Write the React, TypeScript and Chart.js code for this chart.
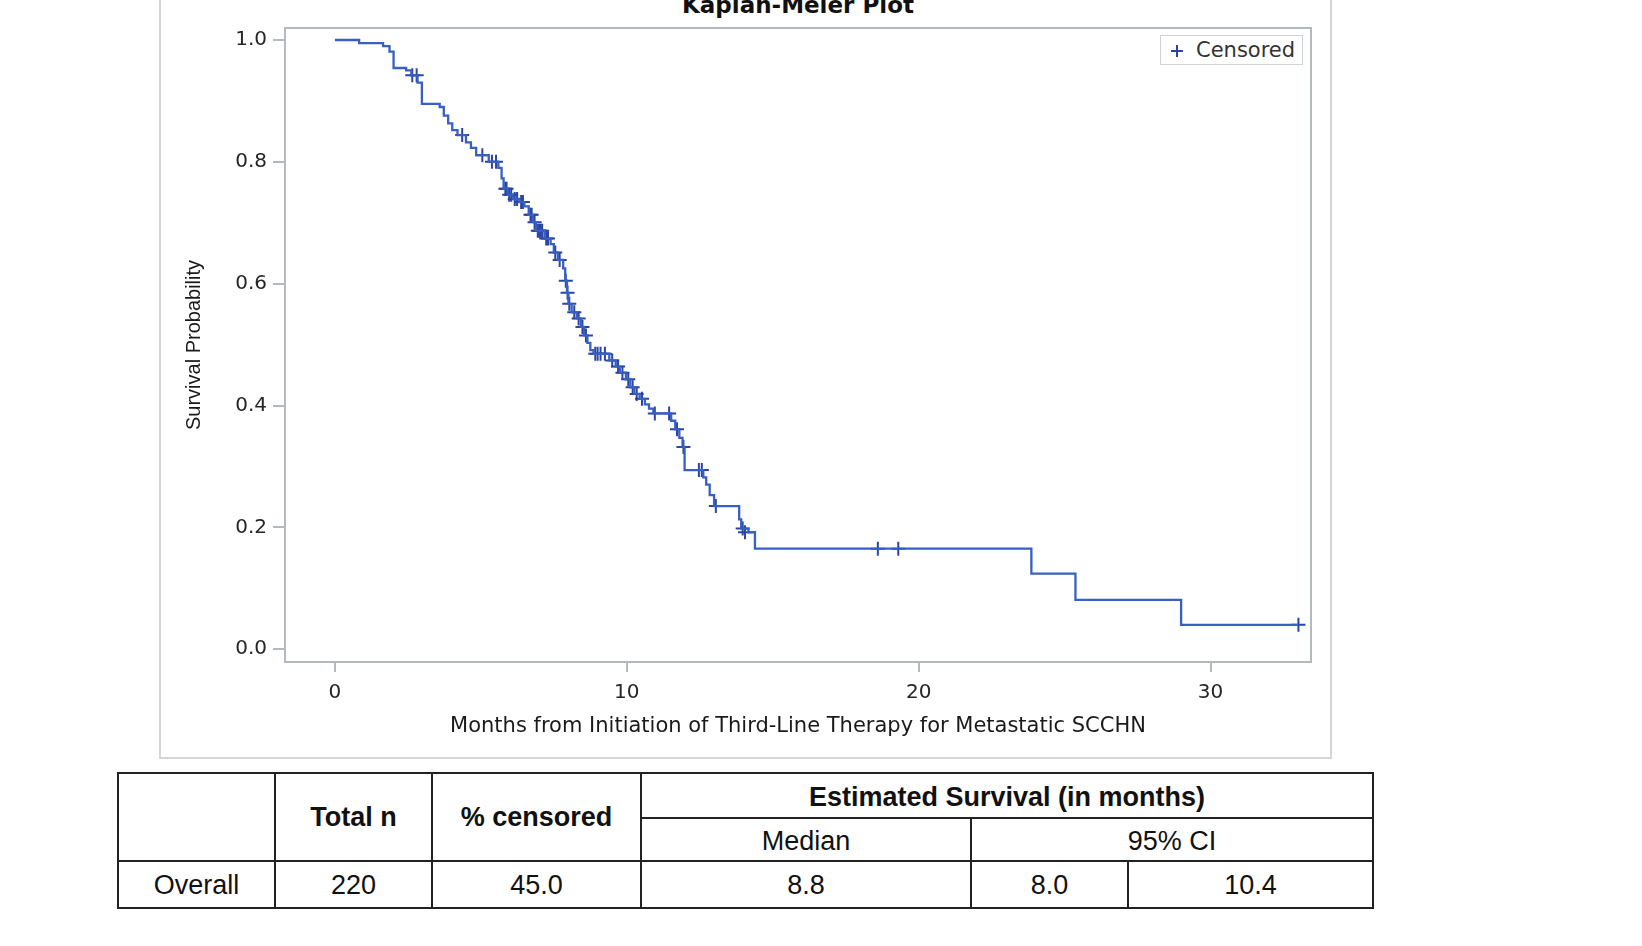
import React, { useEffect, useRef } from "react";
import { Chart, registerables } from "chart.js";

Chart.register(...registerables);

// Kaplan-Meier step points (months, survival probability)
const eventTimes = [
  0, 0.83, 1.65, 1.87, 2.01, 2.44, 2.62, 2.83, 2.98, 3.59,
  3.73, 3.88, 4.02, 4.2, 4.49, 4.66, 4.84, 5.27, 5.6, 5.71,
  5.78, 5.92, 6.1, 6.32, 6.49, 6.64, 6.78, 6.89, 7.18, 7.39,
  7.5, 7.64, 7.82, 7.89, 7.95, 8.0, 8.11, 8.29, 8.43, 8.54,
  8.65, 8.75, 8.86, 9.4, 9.62, 9.76, 9.97, 10.12, 10.26, 10.44,
  10.62, 10.76, 10.91, 11.52, 11.66, 11.8, 11.91, 11.98, 12.62, 12.72,
  12.84, 12.99, 13.85, 13.92, 14.17, 14.39, 23.86, 25.37, 28.99, 33.01,
];
const survival = [
  1.0, 0.995, 0.99, 0.981, 0.954, 0.95, 0.942, 0.93, 0.895, 0.89,
  0.876, 0.863, 0.852, 0.844, 0.832, 0.823, 0.811, 0.8, 0.79, 0.773,
  0.756, 0.746, 0.739, 0.734, 0.727, 0.713, 0.701, 0.687, 0.674, 0.665,
  0.651, 0.639, 0.625, 0.605, 0.585, 0.567, 0.553, 0.543, 0.529, 0.515,
  0.503, 0.491, 0.485, 0.474, 0.464, 0.454, 0.443, 0.43, 0.419, 0.411,
  0.402, 0.395, 0.387, 0.375, 0.361, 0.347, 0.332, 0.294, 0.282, 0.27,
  0.253, 0.235, 0.213, 0.198, 0.192, 0.165, 0.124, 0.081, 0.04, 0.04,
];

// Censored observations
const censorTimes = [
  2.65, 2.8, 4.36, 5.05, 5.38, 5.52, 5.84, 5.88, 5.97, 6.04,
  6.16, 6.24, 6.38, 6.44, 6.7, 6.74, 6.84, 6.95, 7.0, 7.05,
  7.1, 7.24, 7.3, 7.55, 7.7, 7.91, 7.97, 8.03, 8.2, 8.35,
  8.48, 8.6, 8.92, 9.0, 9.1, 9.25, 9.5, 9.7, 9.85, 10.05,
  10.2, 10.34, 10.52, 10.96, 11.45, 11.72, 11.94, 12.47, 12.57, 13.05,
  13.97, 14.05, 18.6, 19.3, 33.01,
];
const censorSurv = [
  0.942, 0.942, 0.844, 0.811, 0.8, 0.8, 0.756, 0.756, 0.746, 0.746,
  0.739, 0.739, 0.734, 0.734, 0.713, 0.713, 0.701, 0.687, 0.687, 0.687,
  0.687, 0.674, 0.674, 0.651, 0.639, 0.605, 0.585, 0.567, 0.553, 0.543,
  0.529, 0.515, 0.485, 0.485, 0.485, 0.485, 0.474, 0.464, 0.454, 0.443,
  0.43, 0.419, 0.411, 0.387, 0.387, 0.361, 0.332, 0.294, 0.294, 0.235,
  0.198, 0.192, 0.165, 0.165, 0.04,
];

const xTickValues = [0, 10, 20, 30];
const yTickValues = [0, 0.2, 0.4, 0.6, 0.8, 1.0];

const tableHeaders = ["", "Total n", "% censored", "Estimated Survival (in months)"];
const tableSubHeaders = ["Median", "95% CI"];
const tableRow = ["Overall", "220", "45.0", "8.8", "8.0", "10.4"];

const LINE_BLUE = "#3760c0";
const MARK_BLUE = "#2a45a4";
const AXIS_GRAY = "#b4b9c0";
const CHART_FONT = "'DejaVu Sans', sans-serif";

const plotBorder = {
  id: "plotBorder",
  afterDatasetsDraw(chart: any) {
    const { ctx, chartArea } = chart;
    ctx.save();
    ctx.strokeStyle = AXIS_GRAY;
    ctx.lineWidth = 2;
    ctx.strokeRect(
      chartArea.left,
      chartArea.top,
      chartArea.right - chartArea.left,
      chartArea.bottom - chartArea.top
    );
    ctx.restore();
  },
};

function KMChart() {
  const ref = useRef<HTMLCanvasElement | null>(null);
  useEffect(() => {
    if (!ref.current) return;
    const chart = new Chart(ref.current, {
      type: "line",
      data: {
        datasets: [
          {
            label: "Survival",
            data: eventTimes.map((t, i) => ({ x: t, y: survival[i] })),
            borderColor: LINE_BLUE,
            borderWidth: 2.3,
            pointRadius: 0,
            stepped: "before",
            fill: false,
          } as any,
          {
            type: "scatter",
            label: "Censored",
            data: censorTimes.map((t, i) => ({ x: t, y: censorSurv[i] })),
            pointStyle: "cross",
            pointRadius: 7,
            borderColor: MARK_BLUE,
            backgroundColor: MARK_BLUE,
            borderWidth: 2,
            showLine: false,
          } as any,
        ],
      },
      options: {
        responsive: false,
        animation: false,
        layout: { padding: { top: 28, right: 20, left: 0, bottom: 0 } },
        plugins: {
          legend: { display: false },
          tooltip: { enabled: false },
          title: { display: false },
        },
        scales: {
          x: {
            type: "linear",
            min: -1.71,
            max: 33.44,
            afterBuildTicks: (s: any) => {
              s.ticks = xTickValues.map((v) => ({ value: v }));
            },
            afterFit: (s: any) => {
              s.height = 96;
            },
            ticks: {
              autoSkip: false,
              maxRotation: 0,
              padding: 9,
              color: "#262626",
              font: { family: CHART_FONT, size: 20 },
              callback: (v: any) => String(v),
            },
            grid: {
              drawOnChartArea: false,
              drawTicks: true,
              tickLength: 10,
              color: AXIS_GRAY,
              lineWidth: 2,
            },
            border: { display: false },
            title: {
              display: true,
              text: "Months from Initiation of Third-Line Therapy for Metastatic SCCHN",
              color: "#1a1a1a",
              font: { family: CHART_FONT, size: 21 },
              padding: { top: 0, bottom: 19 },
            },
          },
          y: {
            type: "linear",
            min: -0.021,
            max: 1.0197,
            afterBuildTicks: (s: any) => {
              s.ticks = yTickValues.map((v) => ({ value: v }));
            },
            afterFit: (s: any) => {
              s.width = 125;
            },
            ticks: {
              padding: 6,
              color: "#262626",
              font: { family: CHART_FONT, size: 20 },
              callback: (v: any) => Number(v).toFixed(1),
            },
            grid: {
              drawOnChartArea: false,
              drawTicks: true,
              tickLength: 12,
              color: AXIS_GRAY,
              lineWidth: 2,
            },
            border: { display: false },
            title: {
              display: true,
              text: "Survival Probability",
              color: "#1a1a1a",
              font: { family: "'Liberation Sans', Arial, sans-serif", size: 20 },
              padding: { top: 22, bottom: 0 },
            },
          },
        },
      } as any,
      plugins: [plotBorder],
    });
    return () => chart.destroy();
  }, []);
  return <canvas ref={ref} width={1171} height={758} style={{ width: 1171, height: 758, display: "block" }} />;
}

const cellBase: React.CSSProperties = {
  border: "2px solid #222",
  textAlign: "center",
  verticalAlign: "middle",
  padding: 0,
  color: "#111",
};

export default function App() {
  return (
    <div
      style={{
        position: "fixed",
        left: 0,
        top: 0,
        width: 1642,
        height: 946,
        background: "#fff",
        overflow: "hidden",
      }}
    >
      {/* outer graph frame */}
      <div
        style={{
          position: "absolute",
          left: 159,
          top: -12,
          width: 1173,
          height: 771,
          border: "2px solid #d4d6d8",
          boxSizing: "border-box",
        }}
      />
      {/* title */}
      <div
        style={{
          position: "absolute",
          left: 798,
          top: -6,
          transform: "translateX(-50%)",
          fontFamily: CHART_FONT,
          fontWeight: "bold",
          fontSize: 23,
          lineHeight: "23px",
          color: "#111",
          whiteSpace: "nowrap",
        }}
      >
        Kaplan-Meier Plot
      </div>
      <div style={{ position: "absolute", left: 160, top: 0 }}>
        <KMChart />
      </div>
      {/* legend */}
      <div
        style={{
          position: "absolute",
          left: 1160,
          top: 35,
          width: 143,
          height: 30,
          border: "1px solid #cfd2d6",
          boxSizing: "border-box",
          background: "#fff",
        }}
      >
        <div style={{ position: "absolute", left: 10, top: 14, width: 12, height: 2, background: MARK_BLUE }} />
        <div style={{ position: "absolute", left: 15, top: 9, width: 2, height: 12, background: MARK_BLUE }} />
        <div
          style={{
            position: "absolute",
            left: 35,
            top: 2,
            fontFamily: CHART_FONT,
            fontSize: 21,
            lineHeight: "24px",
            color: "#333",
            whiteSpace: "nowrap",
          }}
        >
          Censored
        </div>
      </div>
      {/* summary table */}
      <table
        style={{
          position: "absolute",
          left: 117,
          top: 772,
          borderCollapse: "collapse",
          tableLayout: "fixed",
          width: 1255,
          fontFamily: "'Liberation Sans', Arial, sans-serif",
          fontSize: 27,
        }}
      >
        <colgroup>
          <col style={{ width: 157 }} />
          <col style={{ width: 157 }} />
          <col style={{ width: 209 }} />
          <col style={{ width: 330 }} />
          <col style={{ width: 157 }} />
          <col style={{ width: 245 }} />
        </colgroup>
        <tbody>
          <tr style={{ height: 45 }}>
            <th rowSpan={2} style={{ ...cellBase, fontWeight: "bold" }}>{tableHeaders[0]}</th>
            <th rowSpan={2} style={{ ...cellBase, fontWeight: "bold" }}>{tableHeaders[1]}</th>
            <th rowSpan={2} style={{ ...cellBase, fontWeight: "bold" }}>{tableHeaders[2]}</th>
            <th colSpan={3} style={{ ...cellBase, fontWeight: "bold", paddingTop: 3 }}>{tableHeaders[3]}</th>
          </tr>
          <tr style={{ height: 43 }}>
            <td style={{ ...cellBase, paddingTop: 3 }}>{tableSubHeaders[0]}</td>
            <td colSpan={2} style={{ ...cellBase, paddingTop: 3 }}>{tableSubHeaders[1]}</td>
          </tr>
          <tr style={{ height: 47 }}>
            {tableRow.map((v, i) => (
              <td key={i} style={{ ...cellBase, paddingTop: 2 }}>{v}</td>
            ))}
          </tr>
        </tbody>
      </table>
    </div>
  );
}
